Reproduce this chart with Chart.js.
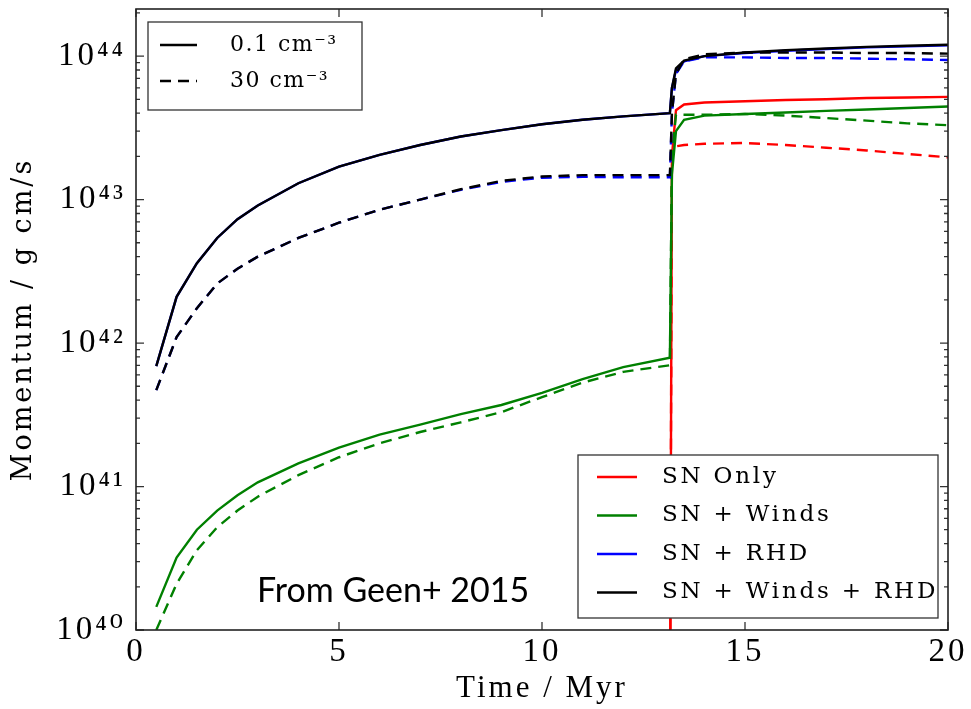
<!DOCTYPE html>
<html><head><meta charset="utf-8">
<script src="https://cdn.jsdelivr.net/npm/chart.js@4.4.1/dist/chart.umd.min.js"></script>
<style>html,body{margin:0;padding:0;background:#fff;} #wrap{width:971px;height:709px;position:relative;}</style>
</head><body><div id="wrap"><canvas id="c" width="971" height="709"></canvas></div>
<script>
// ---- data ----
const timeEarly = [0.5,1,1.5,2,2.5,3,4,5,6,7,8,9,10,11,12,13.15];
const timeLate  = [13.2,13.3,13.5,14,15,16,17,18,19,20];
const timeSN    = [13.15,13.2,13.3,13.5,14,15,16,17,18,19,20];

const windsRhdLow  = [6.9e41,2.1e42,3.6e42,5.4e42,7.3e42,9.1e42,1.3e43,1.7e43,2.05e43,2.4e43,2.75e43,3.05e43,3.35e43,3.6e43,3.8e43,4.0e43,
                      6.0e43,8.2e43,9.3e43,1.0e44,1.06e44,1.1e44,1.13e44,1.16e44,1.18e44,1.2e44];
const rhdLow       = [6.9e41,2.1e42,3.6e42,5.4e42,7.3e42,9.1e42,1.3e43,1.7e43,2.05e43,2.4e43,2.75e43,3.05e43,3.35e43,3.6e43,3.8e43,4.0e43,
                      6.0e43,8.0e43,9.2e43,1.0e44,1.05e44,1.09e44,1.12e44,1.15e44,1.17e44,1.19e44];
const windsRhdHigh = [4.7e41,1.1e42,1.75e42,2.6e42,3.3e42,4.0e42,5.4e42,6.9e42,8.5e42,1.0e43,1.18e43,1.35e43,1.45e43,1.48e43,1.48e43,1.48e43,
                      4.0e43,7.5e43,9.5e43,1.03e44,1.06e44,1.06e44,1.06e44,1.05e44,1.05e44,1.04e44];
const rhdHigh      = [4.7e41,1.1e42,1.75e42,2.6e42,3.3e42,4.0e42,5.4e42,6.9e42,8.5e42,1.0e43,1.17e43,1.33e43,1.42e43,1.44e43,1.43e43,1.43e43,
                      4.0e43,7.5e43,9.2e43,9.8e43,9.8e43,9.7e43,9.7e43,9.6e43,9.5e43,9.4e43];
const windsLow     = [1.45e40,3.2e40,5.0e40,6.8e40,8.7e40,1.07e41,1.45e41,1.87e41,2.3e41,2.7e41,3.2e41,3.7e41,4.5e41,5.6e41,6.8e41,7.9e41,
                      1.5e43,3.0e43,3.6e43,3.85e43,3.95e43,4.05e43,4.15e43,4.25e43,4.35e43,4.45e43];
const windsHigh    = [1.0e40,2.1e40,3.6e40,5.2e40,6.8e40,8.5e40,1.2e41,1.6e41,2.0e41,2.4e41,2.8e41,3.3e41,4.2e41,5.3e41,6.3e41,7.0e41,
                      2.0e43,3.9e43,3.9e43,3.9e43,3.95e43,3.85e43,3.7e43,3.55e43,3.4e43,3.3e43];
const snOnlyLow    = [1e39,2.0e43,4.2e43,4.6e43,4.75e43,4.85e43,4.95e43,5.0e43,5.1e43,5.15e43,5.2e43];
const snOnlyHigh   = [1e39,2.2e43,2.35e43,2.4e43,2.45e43,2.48e43,2.4e43,2.3e43,2.2e43,2.08e43,1.97e43];

const xTickValues = [0,5,10,15,20];
const yDecades    = [1e40,1e41,1e42,1e43,1e44];
const yTickLabels = ['10⁴⁰','10⁴¹','10⁴²','10⁴³','10⁴⁴'];
const legendModels = ['SN Only','SN + Winds','SN + RHD','SN + Winds + RHD'];
const legendDensity = ['0.1 cm⁻³','30 cm⁻³'];
const noteText = 'From Geen+ 2015';

const timeFull = timeEarly.concat(timeLate);
const pts = (xs, ys) => xs.map((x,i)=>({x, y: ys[i]}));

const RED='#ff0000', GREEN='#008000', BLUE='#0000ff', BLACK='#000000';
const DASH=[11,7];
const ds = (label, xs, ys, color, dashed) => ({
  label, data: pts(xs, ys), borderColor: color, backgroundColor: color,
  borderWidth: 2.4, borderDash: dashed ? DASH : [], pointRadius: 0, tension: 0, fill: false
});

const datasets = [
  ds('SN + Winds + RHD, 0.1', timeFull, windsRhdLow, BLACK, false),
  ds('SN + Winds + RHD, 30', timeFull, windsRhdHigh, BLACK, true),
  ds('SN + RHD, 0.1', timeFull, rhdLow, BLUE, false),
  ds('SN + RHD, 30', timeFull, rhdHigh, BLUE, true),
  ds('SN + Winds, 0.1', timeFull, windsLow, GREEN, false),
  ds('SN + Winds, 30', timeFull, windsHigh, GREEN, true),
  ds('SN Only, 0.1', timeSN, snOnlyLow, RED, false),
  ds('SN Only, 30', timeSN, snOnlyHigh, RED, true),
];

const SERIF = '"Liberation Serif", "DejaVu Serif", serif';
const SERIF2 = '"DejaVu Serif", "Liberation Serif", serif';

const noPad = s => { s.paddingTop = 0; s.paddingBottom = 0; s.paddingLeft = 0; s.paddingRight = 0; };

const decor = {
  id: 'decor',
  beforeDraw(chart) { chart.ctx.letterSpacing = '3px'; },
  afterDraw(chart) {
    const ctx = chart.ctx, a = chart.chartArea;
    const xs = chart.scales.x, ys = chart.scales.y;
    ctx.save();
    ctx.letterSpacing = '0px';
    ctx.strokeStyle = '#333'; ctx.lineWidth = 1.3;
    // inward ticks
    ctx.beginPath();
    xTickValues.forEach(v => {
      const px = xs.getPixelForValue(v);
      ctx.moveTo(px, a.bottom); ctx.lineTo(px, a.bottom - 8);
      ctx.moveTo(px, a.top); ctx.lineTo(px, a.top + 8);
    });
    ys.ticks.forEach(t => {
      const py = ys.getPixelForValue(t.value);
      if (py < a.top - 0.5 || py > a.bottom + 0.5) return;
      const major = yDecades.includes(t.value);
      const len = major ? 8 : 4;
      ctx.moveTo(a.left, py); ctx.lineTo(a.left + len, py);
      ctx.moveTo(a.right, py); ctx.lineTo(a.right - len, py);
    });
    ctx.stroke();
    // frame
    ctx.strokeStyle = '#222'; ctx.lineWidth = 1.6;
    ctx.strokeRect(a.left, a.top, a.right - a.left, a.bottom - a.top);

    // density legend (top-left)
    ctx.fillStyle = '#fff'; ctx.strokeStyle = '#333'; ctx.lineWidth = 1.3;
    ctx.fillRect(148, 22, 214, 88); ctx.strokeRect(148, 22, 214, 88);
    ctx.font = '22px ' + SERIF2; ctx.fillStyle = '#000'; ctx.textBaseline = 'middle';
    ctx.letterSpacing = '1.5px';
    [[45, []], [81, DASH]].forEach(([y, d], i) => {
      ctx.beginPath(); ctx.setLineDash(d); ctx.strokeStyle = BLACK; ctx.lineWidth = 2.4;
      ctx.moveTo(160, y); ctx.lineTo(197, y); ctx.stroke();
      ctx.setLineDash([]);
      ctx.fillText(legendDensity[i], 230, y);
    });

    // model legend (bottom-right)
    ctx.fillStyle = '#fff'; ctx.strokeStyle = '#333'; ctx.lineWidth = 1.3;
    ctx.fillRect(578, 455, 360, 163); ctx.strokeRect(578, 455, 360, 163);
    const cols = [RED, GREEN, BLUE, BLACK];
    ctx.font = '23px ' + SERIF2; ctx.letterSpacing = '2.8px';
    legendModels.forEach((m, i) => {
      const y = 477 + i * 38.5;
      ctx.beginPath(); ctx.strokeStyle = cols[i]; ctx.lineWidth = 2.4;
      ctx.moveTo(597, y); ctx.lineTo(637, y); ctx.stroke();
      ctx.fillStyle = '#000'; ctx.fillText(m, 662, y);
    });

    // note
    ctx.letterSpacing = '0px';
    ctx.font = '34px Lato, "Open Sans", sans-serif';
    ctx.fillStyle = '#000'; ctx.textBaseline = 'alphabetic';
    ctx.fillText(noteText, 257, 602);
    ctx.restore();
  }
};

new Chart(document.getElementById('c'), {
  type: 'line',
  data: { datasets },
  options: {
    responsive: false, animation: false,
    layout: { padding: { left: 0, right: 23, top: 9, bottom: 0 } },
    plugins: { legend: { display: false }, tooltip: { enabled: false } },
    scales: {
      x: {
        type: 'linear', min: 0, max: 20,
        afterBuildTicks: s => { s.ticks = xTickValues.map(v => ({ value: v })); },
        afterFit: s => { s.height = 79; noPad(s); },
        grid: { display: false, drawTicks: false },
        border: { display: false },
        ticks: { font: { family: SERIF, size: 33 }, color: '#000', padding: 3, autoSkip: false, maxRotation: 0 },
        title: { display: true, text: 'Time / Myr', font: { family: SERIF, size: 31 }, color: '#000', padding: { top: 0, bottom: 2 } }
      },
      y: {
        type: 'logarithmic', min: 1e40, max: 2.13e44,
        afterBuildTicks: s => {
          const t = [];
          yDecades.forEach(d => { for (let k = 1; k <= 9; k++) { const v = d * k; if (v <= 2.13e44) t.push({ value: v }); } });
          s.ticks = t;
        },
        afterFit: s => { s.width = 136; noPad(s); },
        grid: { display: false, drawTicks: false },
        border: { display: false },
        ticks: {
          font: { family: SERIF, size: 33 }, color: '#000', padding: 10, autoSkip: false,
          callback: v => { const i = yDecades.indexOf(v); return i >= 0 ? yTickLabels[i] : ''; }
        },
        title: { display: true, text: 'Momentum / g cm/s', font: { family: SERIF2, size: 27 }, color: '#000', padding: { top: 8, bottom: 0 } }
      }
    }
  },
  plugins: [decor]
});
</script></body></html>
